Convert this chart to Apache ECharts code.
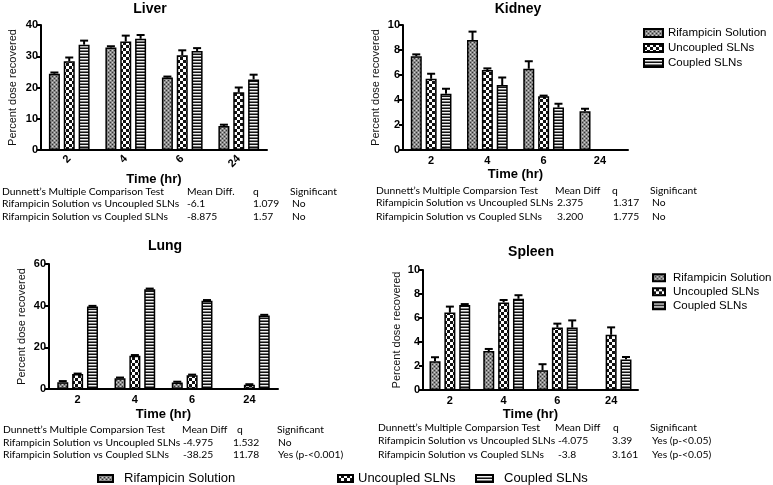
<!DOCTYPE html>
<html><head><meta charset="utf-8">
<script src="https://cdn.jsdelivr.net/npm/echarts@6/dist/echarts.min.js"></script>
<style>html,body{margin:0;padding:0;background:#fff}#c{width:773px;height:485px}</style>
</head><body><div id="c"></div>
<script>
// ---------- DATA ----------
const categories = ['2', '4', '6', '24'];
const seriesNames = ['Rifampicin Solution', 'Uncoupled SLNs', 'Coupled SLNs'];
const xAxisTitle = 'Time (hr)';
const yAxisTitle = 'Percent dose recovered';

const liverRif = [24.4, 32.8, 23.2, 7.7];
const liverRifErr = [0.4, 0.4, 0.3, 0.4];
const liverUnc = [28.4, 34.7, 30.3, 18.5];
const liverUncErr = [1.2, 1.9, 1.6, 1.5];
const liverCoup = [33.7, 35.6, 31.7, 22.6];
const liverCoupErr = [1.3, 1.2, 0.9, 1.5];

const kidneyRif = [7.5, 8.8, 6.5, 3.1];
const kidneyRifErr = [0.15, 0.67, 0.6, 0.2];
const kidneyUnc = [5.7, 6.4, 4.3, 0];
const kidneyUncErr = [0.4, 0.13, 0.05, 0];
const kidneyCoup = [4.5, 5.2, 3.4, 0];
const kidneyCoupErr = [0.4, 0.6, 0.3, 0];

const lungRif = [3.3, 5.2, 3.1, 0];
const lungRifErr = [0.5, 0.3, 0.4, 0];
const lungUnc = [7.2, 16.0, 6.6, 2.1];
const lungUncErr = [0.2, 0.3, 0.3, 0.2];
const lungCoup = [39.6, 47.9, 42.4, 35.3];
const lungCoupErr = [0.3, 0.3, 0.3, 0.3];

const spleenRif = [2.4, 3.25, 1.65, 0];
const spleenRifErr = [0.33, 0.17, 0.5, 0];
const spleenUnc = [6.45, 7.3, 5.2, 4.6];
const spleenUncErr = [0.5, 0.2, 0.33, 0.62];
const spleenCoup = [7.08, 7.6, 5.2, 2.55];
const spleenCoupErr = [0.08, 0.3, 0.6, 0.2];

const organTitles = ['Liver', 'Kidney', 'Lung', 'Spleen'];
const yMax = [40, 10, 60, 10];
const yStep = [10, 2, 20, 2];

const liverTable = [
  ['Dunnett’s Multiple Comparison Test', 'Mean Diff.', 'q', 'Significant'],
  ['Rifampicin Solution vs Uncoupled SLNs', '-6.1', '1.079', 'No'],
  ['Rifampicin Solution vs Coupled SLNs', '-8.875', '1.57', 'No']
];
const kidneyTable = [
  ['Dunnett’s Multiple Comparsion Test', 'Mean Diff', 'q', 'Significant'],
  ['Rifampicin Solution vs Uncoupled SLNs', '2.375', '1.317', 'No'],
  ['Rifampicin Solution vs Coupled SLNs', '3.200', '1.775', 'No']
];
const lungTable = [
  ['Dunnett’s Multiple Comparsion Test', 'Mean Diff', 'q', 'Significant'],
  ['Rifampicin Solution vs Uncoupled SLNs', '-4.975', '1.532', 'No'],
  ['Rifampicin Solution vs Coupled SLNs', '-38.25', '11.78', 'Yes (p-<0.001)']
];
const spleenTable = [
  ['Dunnett’s Multiple Comparsion Test', 'Mean Diff', 'q', 'Significant'],
  ['Rifampicin Solution vs Uncoupled SLNs', '-4.075', '3.39', 'Yes (p-<0.05)'],
  ['Rifampicin Solution vs Coupled SLNs', '-3.8', '3.161', 'Yes (p-<0.05)']
];

// ---------- PATTERNS ----------
function pat(w, h, draw) {
  const c = document.createElement('canvas'); c.width = w; c.height = h;
  const g = c.getContext('2d'); draw(g); return { image: c, repeat: 'repeat' };
}
const patterns = [
  pat(4, 4, g => { g.fillStyle = '#8a8a8a'; g.fillRect(0,0,4,4); g.fillStyle = '#333';
    g.fillRect(0,0,1,1); g.fillRect(2,2,1,1); g.fillStyle = '#d0d0d0'; g.fillRect(2,0,1,1); g.fillRect(0,2,1,1); }),
  pat(6, 6, g => { g.fillStyle = '#111'; g.fillRect(0,0,6,6); g.fillStyle = '#fff';
    g.fillRect(0,0,3,3); g.fillRect(3,3,3,3); }),
  pat(1, 3, g => { g.fillStyle = '#111'; g.fillRect(0,0,1,3); g.fillStyle = '#f2f2f2'; g.fillRect(0,1,1,1);
    g.fillStyle = '#7a7a7a'; g.fillRect(0,2,1,1); })
];

// ---------- LAYOUT ----------
const grids = [
  { left: 41, top: 25, width: 226, height: 125, rotate: 45, nameGap: 22, yNameGap: 23, labelMargin: 7 },
  { left: 403, top: 25, width: 225, height: 125, rotate: 0, nameGap: 18, yNameGap: 22, labelMargin: 5 },
  { left: 49, top: 264, width: 229, height: 125, rotate: 0, nameGap: 19, yNameGap: 22, labelMargin: 5 },
  { left: 423, top: 270, width: 215, height: 120, rotate: 0, nameGap: 18, yNameGap: 21, labelMargin: 5 }
];
const titlePos = [[150, 9], [518, 9], [165, 246], [531, 252]];
const tables = [liverTable, kidneyTable, lungTable, spleenTable];
const tableCols = [
  [[2, 187, 253, 290], [2, 187, 253, 292]],
  [[376, 555, 612, 650], [376, 557, 613, 652]],
  [[3, 182, 237, 277], [3, 183, 233, 278]],
  [[378, 555, 613, 650], [378, 558, 612, 652]]
];
const tableRows = [[192, 204, 217], [191, 203, 217], [430, 443, 455], [428, 441, 455]];

const means = [[liverRif, liverUnc, liverCoup], [kidneyRif, kidneyUnc, kidneyCoup],
               [lungRif, lungUnc, lungCoup], [spleenRif, spleenUnc, spleenCoup]];
const errs = [[liverRifErr, liverUncErr, liverCoupErr], [kidneyRifErr, kidneyUncErr, kidneyCoupErr],
              [lungRifErr, lungUncErr, lungCoupErr], [spleenRifErr, spleenUncErr, spleenCoupErr]];

const BW = 11, GAP = 0.35, SP = BW * (1 + GAP);
const FONT = '"Liberation Sans", Arial, sans-serif';

const option = {
  animation: false,
  backgroundColor: '#fff',
  grid: grids.map(g => ({ left: g.left, top: g.top, width: g.width, height: g.height })),
  xAxis: grids.map((g, i) => ({
    type: 'category', gridIndex: i, data: categories,
    axisLine: { lineStyle: { color: '#000', width: 2 } },
    axisTick: { alignWithLabel: true, length: 4, lineStyle: { color: '#000', width: 2 } },
    axisLabel: { color: '#000', fontWeight: 'bold', fontSize: 11, fontFamily: FONT, rotate: g.rotate, margin: g.labelMargin },
    name: xAxisTitle, nameLocation: 'middle', nameGap: g.nameGap,
    nameTextStyle: { color: '#000', fontWeight: 'bold', fontSize: 13, fontFamily: FONT }
  })),
  yAxis: grids.map((g, i) => ({
    type: 'value', gridIndex: i, min: 0, max: yMax[i], interval: yStep[i],
    axisLine: { show: true, lineStyle: { color: '#000', width: 2 } },
    axisTick: { show: true, length: 4, lineStyle: { color: '#000', width: 2 } },
    axisLabel: { color: '#000', fontWeight: 'bold', fontSize: 11, fontFamily: FONT, margin: 3 },
    splitLine: { show: false },
    name: yAxisTitle, nameLocation: 'middle', nameGap: g.yNameGap,
    nameTextStyle: { color: '#111', fontSize: 11, fontFamily: FONT }
  })),
  legend: [
    { orient: 'vertical', left: 643, top: 26, padding: 0, itemWidth: 19, itemHeight: 8, itemGap: 1, icon: 'rect',
      textStyle: { fontSize: 11.5, fontFamily: FONT, color: '#000', lineHeight: 14 }, data: seriesNames },
    { orient: 'vertical', left: 652, top: 271, padding: 0, itemWidth: 12, itemHeight: 7, itemGap: 0.5, icon: 'rect',
      textStyle: { fontSize: 11.5, fontFamily: FONT, color: '#000', lineHeight: 13.5, padding: [0, 0, 0, 3] }, data: seriesNames },
    { left: 97, top: 472, padding: 0, itemWidth: 15, itemHeight: 7, icon: 'rect',
      textStyle: { fontSize: 13, fontFamily: FONT, color: '#000', padding: [0, 0, 0, 6] }, data: [seriesNames[0]] },
    { left: 337, top: 472, padding: 0, itemWidth: 15, itemHeight: 7, icon: 'rect',
      textStyle: { fontSize: 13, fontFamily: FONT, color: '#000', padding: [0, 0, 0, 0] }, data: [seriesNames[1]] },
    { left: 475, top: 472, padding: 0, itemWidth: 17, itemHeight: 7, icon: 'rect',
      textStyle: { fontSize: 13, fontFamily: FONT, color: '#000', padding: [0, 0, 0, 6] }, data: [seriesNames[2]] }
  ],
  series: [],
  graphic: []
};

means.forEach((org, i) => {
  org.forEach((vals, j) => {
    option.series.push({
      type: 'bar', name: seriesNames[j], xAxisIndex: i, yAxisIndex: i, data: vals,
      barWidth: BW, barGap: (GAP * 100) + '%',
      itemStyle: { color: patterns[j], borderColor: '#000', borderWidth: 1.5 }
    });
  });
  org.forEach((vals, j) => {
    const off = (j - 1) * SP;
    option.series.push({
      type: 'custom', xAxisIndex: i, yAxisIndex: i, z: 10, silent: true,
      data: vals.map((v, k) => [k, v, errs[i][j][k]]),
      renderItem: (params, api) => {
        const v = api.value(1), e = api.value(2);
        if (!e) return null;
        const p0 = api.coord([api.value(0), v]);
        const p1 = api.coord([api.value(0), v + e]);
        const cx = p0[0] + off;
        return { type: 'group', children: [
          { type: 'line', shape: { x1: cx, y1: p0[1], x2: cx, y2: p1[1] }, style: { stroke: '#000', lineWidth: 2 } },
          { type: 'line', shape: { x1: cx - 4, y1: p1[1], x2: cx + 4, y2: p1[1] }, style: { stroke: '#000', lineWidth: 2 } }
        ] };
      }
    });
  });
});

organTitles.forEach((t, i) => {
  option.graphic.push({ type: 'text', x: titlePos[i][0], y: titlePos[i][1],
    style: { text: t, font: 'bold 14px ' + FONT, fill: '#000', align: 'center', verticalAlign: 'middle',
             textAlign: 'center', textVerticalAlign: 'middle' } });
});
tables.forEach((tb, i) => {
  tb.forEach((row, r) => {
    row.forEach((cell, c) => {
      option.graphic.push({ type: 'text', x: tableCols[i][r === 0 ? 0 : 1][c], y: tableRows[i][r],
        style: { text: cell, font: '10.3px Lato, sans-serif', fill: '#000', align: 'left', verticalAlign: 'middle',
                 textAlign: 'left', textVerticalAlign: 'middle' } });
    });
  });
});

const chart = echarts.init(document.getElementById('c'), null, { renderer: 'canvas' });
chart.setOption(option);
</script></body></html>
